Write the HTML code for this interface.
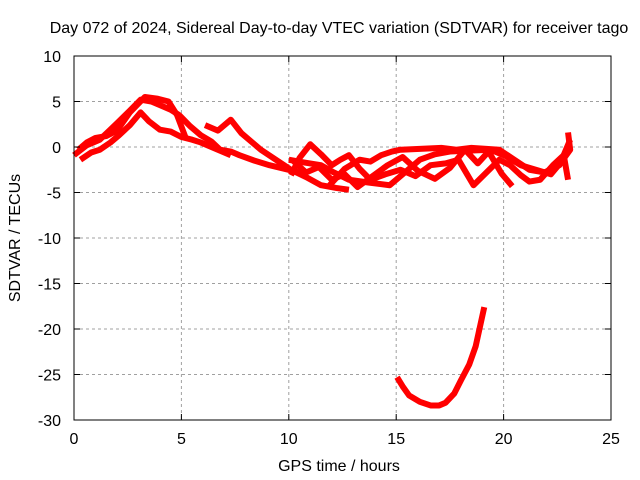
<!DOCTYPE html>
<html><head><meta charset="utf-8"><style>
body{margin:0;background:#fff}
svg{display:block;font-family:"Liberation Sans",sans-serif;font-size:16px}
</style></head><body>
<svg id="chart" width="640" height="480">
<text x="339" y="33" text-anchor="middle">Day 072 of 2024, Sidereal Day-to-day VTEC variation (SDTVAR) for receiver tago</text>
<text x="339" y="471" text-anchor="middle">GPS time / hours</text>
<text transform="translate(20,238) rotate(-90)" text-anchor="middle">SDTVAR / TECUs</text>
<g id="grid"></g><g id="series"></g>
<rect x="74" y="56" width="537" height="364" fill="none" stroke="#000" stroke-width="1"/>
<g id="ticks"></g>
</svg>
<script>
const xTicks=[0,5,10,15,20,25];
const yTicks=[10,5,0,-5,-10,-15,-20,-25,-30];
const s1Hours=[0,0.6,1.2,2,2.6,3.1,3.6,4,4.5,4.9,5.4,5.9,6.4,6.8,7.3,7.7,8.4,9.1,9.8,10.5];
const s1Vals=[-0.9,0.2,0.8,2.6,4,5.2,5,4.6,4.1,3.5,2.3,1.3,0.6,-0.3,-0.5,-0.9,-1.5,-2,-2.4,-2.8];
const s2Hours=[0.3,0.8,1.2,1.7,2.1,2.6,3.1,3.5,4,4.5,5,5.5,5.9,6.6,7.3];
const s2Vals=[-1.4,-0.6,-0.3,0.5,1.3,2.4,3.8,2.8,1.9,1.7,1.1,0.8,0.5,-0.2,-0.9];
const s3Hours=[0.2,0.6,1,1.5,2,2.6,3.3,3.9,4.4,4.8,5.2];
const s3Vals=[-0.3,0.5,1,1.2,1.8,3.8,5.5,5.3,5,3.5,1];
const s4Hours=[6.1,6.7,7.3,7.8,8.7,9.4,10.1,10.8,11.5,12.2,12.8];
const s4Vals=[2.4,1.8,3,1.5,-0.3,-1.4,-2.5,-3.3,-4.2,-4.5,-4.7];
const s5Hours=[10,10.7,11.5,12.1,12.8,13.7,14.7,15.4,16.1,16.8,17.5,18.4,19.4,20.1,20.8,21.5,22.2,22.7,23.1,23];
const s5Vals=[-1.4,-1.7,-2,-2.8,-3.6,-3.9,-4.2,-2.8,-1.4,-0.8,-0.5,-0.4,-0.3,-1,-2,-2.5,-3,-1.6,-0.3,1.6];
const s6Hours=[11.9,12.6,13.3,13.8,14.3,14.8,15.2,16.1,17.1,17.8,18.5,19.2,19.8,20.5,21.2,21.9,22.6,23.1];
const s6Vals=[-4.2,-2.4,-1.4,-1.6,-0.9,-0.5,-0.3,-0.2,-0.1,-0.3,-0.1,-0.2,-0.3,-1.4,-2.5,-2.8,-2,0.8];
const s7Hours=[10.1,10.5,11,11.5,12,12.4,12.8,13.3,13.8,14.5,15.2,15.9,16.6,17.3,17.9,18.3,18.6,19.2,19.8,20.3,20.8,21.2,21.7,22.3,22.8,23];
const s7Vals=[-3.1,-1.2,0.3,-0.8,-2,-1.4,-0.9,-2.4,-3.6,-3,-2.5,-3.2,-2,-1.8,-1.4,-3,-4.2,-2.8,-1.4,-2,-3.1,-3.8,-3.6,-2,-0.9,-3.6];
const s8Hours=[10.2,10.8,11.4,12,12.6,13.2,13.9,14.6,15.3,16,16.8,17.5,18.2,18.8,19.3,19.9,20.4];
const s8Vals=[-1.5,-2.8,-2.2,-3.6,-3,-4.4,-3.2,-2,-1.1,-2.6,-3.5,-2.3,-0.3,-1.8,-0.5,-2.9,-4.3];
const s9Hours=[15.04,15.3,15.6,16.1,16.6,17,17.3,17.7,18,18.4,18.7,19.1];
const s9Vals=[-25.3,-26.3,-27.3,-28,-28.4,-28.4,-28.1,-27.1,-25.7,-23.9,-21.9,-17.6];
const X=h=>74+h*537/25, Y=v=>147-v*9.1;
const NS="http://www.w3.org/2000/svg";
const grid=document.getElementById('grid'),ticks=document.getElementById('ticks'),ser=document.getElementById('series');
function mk(tag,attrs,parent){const e=document.createElementNS(NS,tag);for(const k in attrs)e.setAttribute(k,attrs[k]);parent.appendChild(e);return e;}
xTicks.forEach(t=>{
 if(t>0&&t<25){const g=mk('line',{x1:X(t),x2:X(t),y1:56,y2:420,stroke:'#a0a0a0','stroke-dasharray':'3,3'},grid);
 
 }
 mk('line',{x1:X(t),x2:X(t),y1:420,y2:414,stroke:'#000'},ticks);
 mk('line',{x1:X(t),x2:X(t),y1:56,y2:62,stroke:'#000'},ticks);
 const l=mk('text',{x:X(t),y:444,'text-anchor':'middle'},ticks);l.textContent=t;
 
 
});
yTicks.forEach(t=>{
 if(t<10&&t>-30){const g=mk('line',{x1:74,x2:611,y1:Y(t),y2:Y(t),stroke:'#a0a0a0','stroke-dasharray':'3,3'},grid);
 
 }
 mk('line',{x1:74,x2:80,y1:Y(t),y2:Y(t),stroke:'#000'},ticks);
 mk('line',{x1:605,x2:611,y1:Y(t),y2:Y(t),stroke:'#000'},ticks);
 const l=mk('text',{x:61,y:Y(t)+6,'text-anchor':'end'},ticks);l.textContent=t;
 
 
});
[[s1Hours,s1Vals],[s2Hours,s2Vals],[s3Hours,s3Vals],[s4Hours,s4Vals],[s5Hours,s5Vals],[s6Hours,s6Vals],[s7Hours,s7Vals],[s8Hours,s8Vals],[s9Hours,s9Vals]].forEach(([h,v],i)=>{
 const p=mk('polyline',{points:h.map((x,j)=>X(x)+','+Y(v[j])).join(' '),fill:'none',stroke:'#ff0000','stroke-width':6,'stroke-linejoin':'round'},ser);
 
 
});
</script>
</body></html>
